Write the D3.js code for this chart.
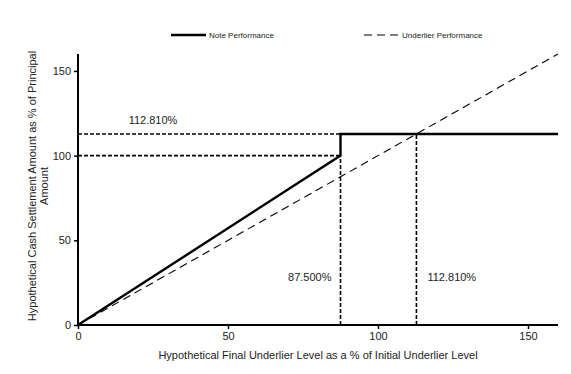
<!DOCTYPE html>
<html>
<head>
<meta charset="utf-8">
<script src="https://cdn.jsdelivr.net/npm/d3@7"></script>
<style>
  body { margin: 0; background: #fff; }
  text { font-family: "Liberation Sans", Arial, sans-serif; fill: #222; }
</style>
</head>
<body>
<div id="chart"></div>
<script>
// data
var xTicks = [0, 50, 100, 150];
var yTicks = [0, 50, 100, 150];
var noteX = [0, 87.5, 87.5, 160];
var noteY = [0, 100, 112.81, 112.81];
var underX = [0, 160];
var underY = [0, 160];
var barrier = 87.5;
var cap = 112.81;
var capLevel = 112.81;

var svgWidth = 571;
var svgHeight = 374;
var margin = { top: 54, right: 13, bottom: 49, left: 78 };
var width = svgWidth - margin.left - margin.right;
var height = svgHeight - margin.top - margin.bottom;

var svg = d3.select("#chart").append("svg")
    .attr("width", svgWidth)
    .attr("height", svgHeight);

var g = svg.append("g")
    .attr("transform", `translate(${margin.left}, ${margin.top})`);

var x = d3.scaleLinear().domain([0, 160]).range([0, width]);
var y = d3.scaleLinear().domain([0, 160]).range([height, 0]);

// reference dashed guides
var guides = [
    [[0, capLevel], [barrier, capLevel]],
    [[0, 100], [barrier, 100]],
    [[barrier, 0], [barrier, 100]],
    [[cap, 0], [cap, capLevel]]
];
var line = d3.line().x(d => x(d[0])).y(d => y(d[1]));
g.selectAll(".guide").data(guides).enter().append("path")
    .attr("class", "guide")
    .attr("d", line)
    .attr("fill", "none")
    .attr("stroke", "#000")
    .attr("stroke-width", 1.6)
    .attr("stroke-dasharray", "4,2");

// underlier performance
g.append("path")
    .attr("d", line(underX.map((v, i) => [v, underY[i]])))
    .attr("fill", "none")
    .attr("stroke", "#000")
    .attr("stroke-width", 1.1)
    .attr("stroke-dasharray", "8,5");

// note performance
g.append("path")
    .attr("d", line(noteX.map((v, i) => [v, noteY[i]])))
    .attr("fill", "none")
    .attr("stroke", "#000")
    .attr("stroke-width", 2.4);

// axes
var xAxis = g.append("g")
    .attr("transform", `translate(0, ${height})`)
    .call(d3.axisBottom(x).tickValues(xTicks).tickSize(4).tickPadding(3));
var yAxis = g.append("g")
    .call(d3.axisLeft(y).tickValues(yTicks).tickSize(4).tickPadding(3));
[xAxis, yAxis].forEach(function (a) {
    a.select(".domain").attr("stroke-width", 2).attr("stroke", "#000");
    a.selectAll(".tick line").attr("stroke-width", 1.5).attr("stroke", "#000");
    a.selectAll(".tick text").attr("font-size", 11).style("font-family", "Liberation Sans, Arial, sans-serif").attr("fill", "#222");
});
yAxis.select(".domain").attr("d", `M0,${height}V0`);
xAxis.select(".domain").attr("d", `M0,0H${width}`);

// annotation labels
g.append("text").attr("x", x(25)).attr("y", y(capLevel) - 10)
    .attr("text-anchor", "middle").attr("font-size", 11).text("112.810%");
g.append("text").attr("x", x(barrier) - 9).attr("y", y(26))
    .attr("text-anchor", "end").attr("font-size", 11).text("87.500%");
g.append("text").attr("x", x(cap) + 11).attr("y", y(26))
    .attr("text-anchor", "start").attr("font-size", 11).text("112.810%");

// axis titles
svg.append("text")
    .attr("x", margin.left + x(80)).attr("y", 359)
    .attr("text-anchor", "middle").attr("font-size", 11)
    .text("Hypothetical Final Underlier Level as a % of Initial Underlier Level");

var yt = svg.append("text")
    .attr("transform", "translate(36, 186) rotate(-90)")
    .attr("text-anchor", "middle").attr("font-size", 11);
yt.append("tspan").attr("x", 0).attr("dy", 0).text("Hypothetical Cash Settlement Amount as % of Principal");
yt.append("tspan").attr("x", 0).attr("dy", 12).text("Amount");

// legend
var legend = svg.append("g").attr("transform", "translate(0, 35)");
legend.append("line").attr("x1", 171).attr("x2", 206).attr("y1", 0).attr("y2", 0)
    .attr("stroke", "#000").attr("stroke-width", 2.4);
legend.append("text").attr("x", 209).attr("y", 3).attr("font-size", 8).text("Note Performance");
legend.append("line").attr("x1", 364).attr("x2", 398).attr("y1", 0).attr("y2", 0)
    .attr("stroke", "#000").attr("stroke-width", 1.1).attr("stroke-dasharray", "8,5");
legend.append("text").attr("x", 402).attr("y", 3).attr("font-size", 8).text("Underlier Performance");
</script>
</body>
</html>
